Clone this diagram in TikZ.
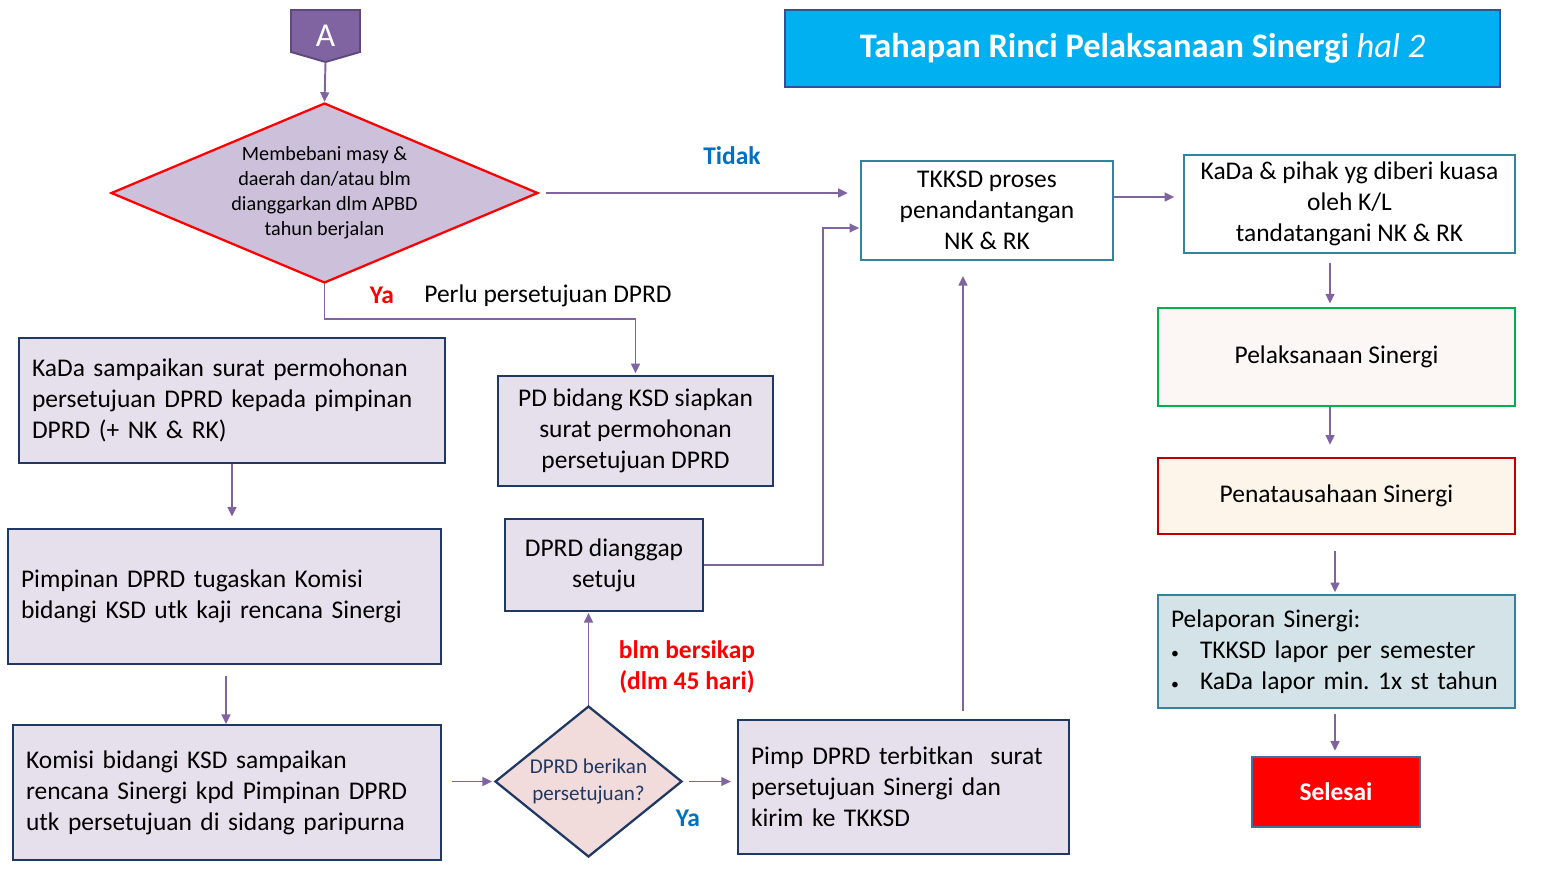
\documentclass[tikz,border=0pt]{standalone}
\usepackage{fontspec}
\setmainfont{Carlito}
\usetikzlibrary{arrows.meta, calc, positioning, shapes.geometric}
\definecolor{flowpurple}{HTML}{8064A2}
\definecolor{apurple}{HTML}{8064A2}
\definecolor{adark}{HTML}{5F497A}
\definecolor{navyline}{HTML}{203864}
\definecolor{lavender}{HTML}{E6E0EC}
\definecolor{lilac}{HTML}{CCC0DA}
\definecolor{tealline}{HTML}{31849B}
\definecolor{greenline}{HTML}{00B050}
\definecolor{redline}{HTML}{C00000}
\definecolor{pinkfill}{HTML}{FCF7F5}
\definecolor{creamfill}{HTML}{FDF5EA}
\definecolor{bluefill}{HTML}{D3E3E8}
\definecolor{rosefill}{HTML}{F2DCDB}
\definecolor{skyfill}{HTML}{00B0F0}
\definecolor{titleline}{HTML}{2F5496}
\definecolor{selline}{HTML}{41719C}
\definecolor{labelblue}{HTML}{0070C0}
\newcommand{\boxfont}{\fontsize{14.5}{17.6}\selectfont}
\frenchspacing

\begin{document}
\begin{tikzpicture}[x=0.02cm, y=-0.02cm, >={Triangle[length=5.5pt,width=5pt]},
  flow/.style={->, draw=flowpurple, line width=1.1pt},
  box/.style={draw=navyline, fill=lavender, line width=1.1pt, font=\boxfont},
  leftbox/.style={box, align=left, inner xsep=0.26cm},
  midbox/.style={box, align=center},
  tealbox/.style={midbox, draw=tealline, fill=white},
  lbl/.style={font=\fontsize{14.5}{17.6}\selectfont\bfseries}]
  \useasboundingbox (0,0) rectangle (1567,879);

  % header
  \node[draw=titleline, fill=skyfill, line width=1.6pt, text=white,
    minimum width=14.3cm, minimum height=1.54cm,
    font=\fontsize{19.6}{22}\selectfont\bfseries] (title) at (1142.5,48.5)
    {Tahapan Rinci Pelaksanaan Sinergi \textit{\mdseries hal 2}};

  % off-page connector
  \filldraw[fill=apurple, draw=adark, line width=1.1pt]
    (291,10) -- (360,10) -- (360,52) -- (325.5,62) -- (291,52) -- cycle;
  \node[text=white, minimum width=1.38cm, minimum height=1.04cm, inner sep=0pt,
    font=\fontsize{19}{21}\selectfont] (A) at (325.5,36) {A};

  % first decision
  \node[diamond, draw=red, fill=lilac, line width=1.3pt, aspect=2.37,
    minimum width=8.54cm, minimum height=3.6cm, inner sep=0pt, align=center,
    font=\fontsize{11.5}{14.2}\selectfont] (d1) at (324.5,193)
    {Membebani masy \&\\ daerah dan/atau blm\\ dianggarkan dlm APBD\\ tahun berjalan};

  % right column
  \node[tealbox, minimum width=5.04cm, minimum height=1.98cm] (tk) at (987,210.5)
    {TKKSD proses\\ penandantangan\\ NK \& RK};
  \node[tealbox, minimum width=6.62cm, minimum height=1.96cm] (kd) at (1349.5,204)
    {KaDa \& pihak yg diberi kuasa\\ oleh K/L\\ tandatangani NK \& RK};
  \node[midbox, draw=greenline, fill=pinkfill, minimum width=7.14cm, minimum height=1.96cm]
    (pl) at (1336.5,357) {Pelaksanaan Sinergi};
  \node[midbox, draw=redline, fill=creamfill, minimum width=7.14cm, minimum height=1.52cm]
    (pt) at (1336.5,496) {Penatausahaan Sinergi};
  \node[leftbox, draw=tealline, fill=bluefill, text width=6.62cm, minimum height=2.26cm]
    (lp) at (1336.5,651.5)
    {Pelaporan Sinergi:\\
     \makebox[0.58cm][l]{\small•}TKKSD lapor per semester\\
     \makebox[0.58cm][l]{\small•}KaDa lapor min. 1x st tahun};
  \node[midbox, draw=selline, fill=red, text=white, minimum width=3.36cm, minimum height=1.4cm,
    font=\boxfont\bfseries] (sl) at (1336,792) {Selesai};

  % left column
  \node[leftbox, text width=8.0cm, minimum height=2.5cm] (ks) at (232,400.5)
    {KaDa sampaikan surat permohonan\\ persetujuan DPRD kepada pimpinan\\ DPRD (+ NK \& RK)};
  \node[leftbox, text width=8.14cm, minimum height=2.7cm] (pn) at (224.5,596.5)
    {Pimpinan DPRD tugaskan Komisi\\ bidangi KSD utk kaji rencana Sinergi};
  \node[leftbox, text width=8.04cm, minimum height=2.7cm] (km) at (227,792.5)
    {Komisi bidangi KSD sampaikan\\ rencana Sinergi kpd Pimpinan DPRD\\ utk persetujuan di sidang paripurna};

  % middle
  \node[midbox, minimum width=5.5cm, minimum height=2.2cm] (pd) at (635.5,431)
    {PD bidang KSD siapkan\\ surat permohonan\\ persetujuan DPRD};
  \node[midbox, minimum width=3.96cm, minimum height=1.84cm] (dg) at (604,565)
    {DPRD dianggap\\ setuju};
  \node[diamond, draw=navyline, fill=rosefill, line width=1.3pt, aspect=1.24,
    minimum width=3.74cm, minimum height=3.02cm, inner sep=0pt, align=center,
    text=navyline, font=\fontsize{12}{15.4}\selectfont] (d2) at (588.5,781.5)
    {DPRD berikan\\ persetujuan?};
  \node[leftbox, text width=6.1cm, minimum height=2.68cm] (pm) at (903.5,787)
    {Pimp DPRD terbitkan~ surat\\ persetujuan Sinergi dan\\ kirim ke TKKSD};

  % labels
  \node[lbl, text=labelblue] (tidak) at (732,156) {Tidak};
  \node[lbl, text=red] (ya1) at (382,295) {Ya};
  \node[font=\boxfont] (perlu) at (548,296) {Perlu persetujuan DPRD};
  \node[lbl, text=red, align=center] (blm) at (687,667) {blm bersikap\\ (dlm 45 hari)};
  \node[lbl, text=labelblue] (ya2) at (688,818) {Ya};

  % connectors
  \draw[flow] (A.south) -- (d1.north);
  \draw[flow, shorten <=4pt, shorten >=7pt] (d1.east) -- (d1.east -| tk.west);
  \draw[flow, shorten >=1pt] (d1.south) -- ++(0,35) -| (pd.north);
  \draw[flow, shorten >=6.5pt] (ks.south) -- (ks.south |- pn.north);
  \draw[flow, shorten <=6pt] ([xshift=0.03cm]pn.south) -- ([xshift=0.03cm]pn.south |- km.north);
  \draw[flow, shorten <=5.5pt, shorten >=1pt] (d2.west -| km.east) -- (d2.west);
  \draw[flow, shorten <=3.5pt, shorten >=3.5pt] (d2.east) -- (d2.east -| pm.west);
  \draw[flow, shorten >=0.5pt] (d2.north) -- (d2.north |- dg.south);
  \draw[flow, shorten >=0.5pt] (dg.east) -- ++(119,0) |- ([yshift=-0.35cm]tk.west);
  \coordinate (up) at ([xshift=1.19cm]pm.north);
  \draw[flow, shorten <=4.5pt, shorten >=8.5pt] (up) -- (up |- tk.south);
  \draw[flow, shorten >=5pt] ([yshift=0.27cm]tk.east) -- ([yshift=0.27cm]tk.east -| kd.west);
  \draw[flow, shorten <=5pt, shorten >=2pt] ([xshift=-0.39cm]kd.south) -- ([xshift=-0.39cm]kd.south |- pl.north);
  \draw[flow, shorten >=7pt] ([xshift=-0.13cm]pl.south) -- ([xshift=-0.13cm]pl.south |- pt.north);
  \draw[flow, shorten <=9pt, shorten >=1pt] ([xshift=-0.03cm]pt.south) -- ([xshift=-0.03cm]pt.south |- lp.north);
  \draw[flow, shorten <=3pt, shorten >=3pt] ([xshift=-0.03cm]lp.south) -- ([xshift=-0.03cm]lp.south |- sl.north);
\end{tikzpicture}
\end{document}
